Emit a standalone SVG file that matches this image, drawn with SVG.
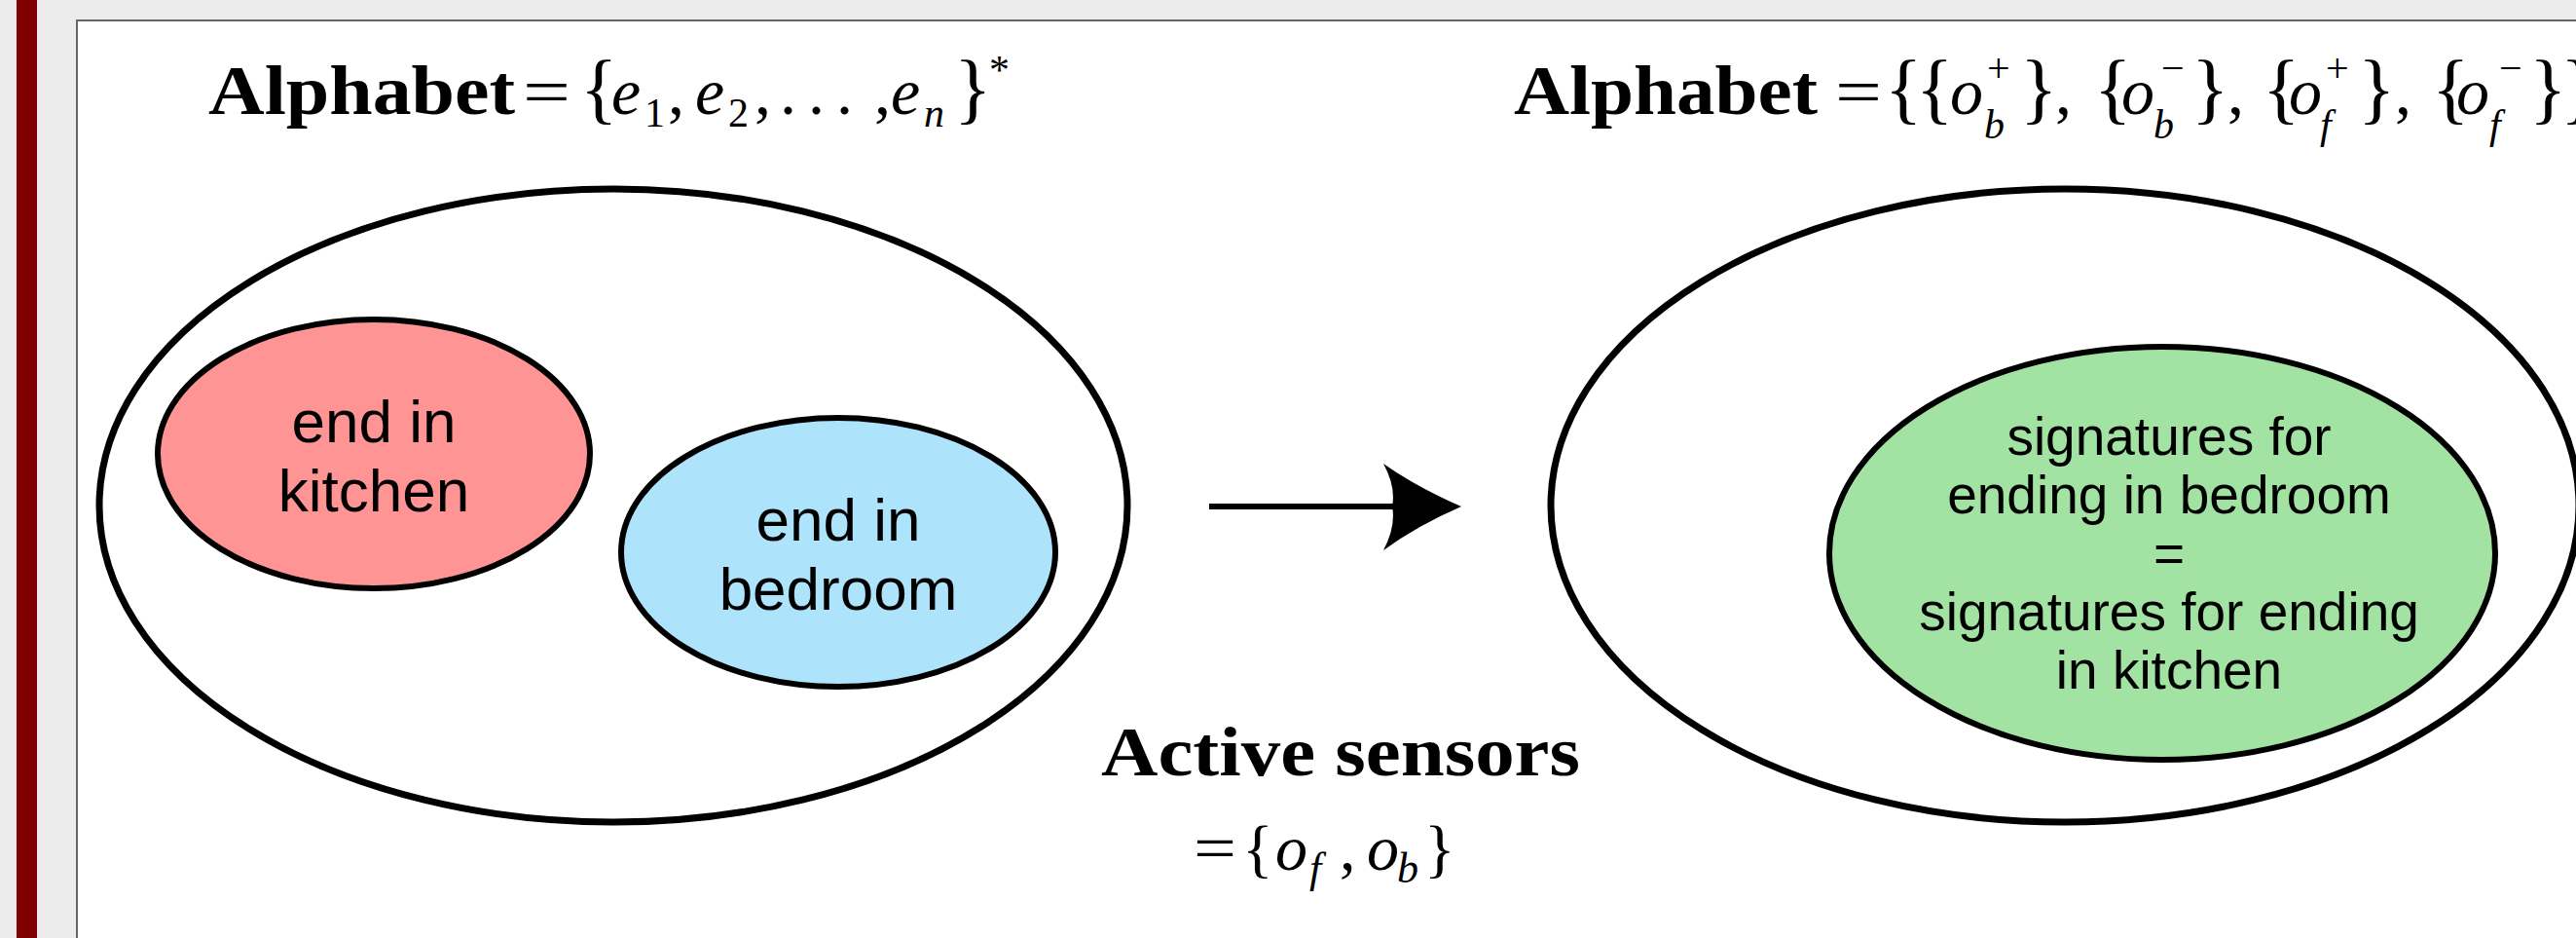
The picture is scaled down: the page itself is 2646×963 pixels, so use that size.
<svg xmlns="http://www.w3.org/2000/svg" width="2646" height="963" viewBox="0 0 2646 963">
<style>
.outer{fill:none;stroke:#000;stroke-width:7}
.inner{stroke:#000;stroke-width:6}
.lbl{font-family:"Liberation Sans",Arial,sans-serif;font-size:62px;fill:#000;text-anchor:middle}
.lbl2{font-family:"Liberation Sans",Arial,sans-serif;font-size:55px;fill:#000;text-anchor:middle}
.bf{font-family:"Liberation Serif","Times New Roman",serif;font-weight:bold;font-size:72px;fill:#000}
.m{font-family:"Liberation Serif","Times New Roman",serif;font-size:68px;fill:#000}
.mi{font-style:italic}
.br{font-size:80px}
.sc{font-size:42px}
</style>
<rect x="0" y="0" width="2646" height="963" fill="#ececec"/>
<rect x="17" y="0" width="21" height="963" fill="#800000"/>
<rect x="79" y="21" width="2620" height="1000" fill="#fff" stroke="#666" stroke-width="2"/>

<g id="title-left">
<text class="bf" x="214" y="117" textLength="315" lengthAdjust="spacingAndGlyphs">Alphabet</text>
<text class="m" y="117"><tspan x="537" textLength="49" lengthAdjust="spacingAndGlyphs">=</tspan><tspan class="br" x="596">{</tspan><tspan class="mi" x="628">e</tspan><tspan class="sc" x="662" y="130">1</tspan><tspan x="686" y="117">,</tspan><tspan class="mi" x="714">e</tspan><tspan class="sc" x="748" y="130">2</tspan><tspan x="775" y="117">,</tspan><tspan x="801">.</tspan><tspan x="830">.</tspan><tspan x="859">.</tspan><tspan x="898">,</tspan><tspan class="mi" x="915">e</tspan><tspan class="sc mi" x="949" y="130">n</tspan><tspan class="br" x="980" y="117">}</tspan><tspan class="sc" x="1016" y="86">*</tspan></text>
</g>

<g id="title-right">
<text class="bf" x="1555" y="117" textLength="312" lengthAdjust="spacingAndGlyphs">Alphabet</text>
<text class="m" y="117"><tspan x="1885" textLength="48" lengthAdjust="spacingAndGlyphs">=</tspan><tspan class="br" x="1936">{</tspan><tspan class="br" x="1968">{</tspan><tspan class="mi" x="2003">o</tspan><tspan class="sc" x="2041" y="84">+</tspan><tspan class="sc mi" x="2038" y="142">b</tspan><tspan class="br" x="2075" y="117">}</tspan><tspan x="2111">,</tspan><tspan class="br" x="2151">{</tspan><tspan class="mi" x="2179">o</tspan><tspan class="sc" x="2220" y="84">−</tspan><tspan class="sc mi" x="2212" y="142">b</tspan><tspan class="br" x="2251" y="117">}</tspan><tspan x="2288">,</tspan><tspan class="br" x="2324">{</tspan><tspan class="mi" x="2351">o</tspan><tspan class="sc" x="2389" y="84">+</tspan><tspan class="sc mi" x="2383" y="142">f</tspan><tspan class="br" x="2422" y="117">}</tspan><tspan x="2460">,</tspan><tspan class="br" x="2498">{</tspan><tspan class="mi" x="2523">o</tspan><tspan class="sc" x="2567" y="84">−</tspan><tspan class="sc mi" x="2557" y="142">f</tspan><tspan class="br" x="2598" y="117">}</tspan><tspan class="br" x="2630">}</tspan></text>
</g>

<g id="set-left">
<ellipse class="outer" cx="630" cy="519" rx="528" ry="325"/>
</g>
<g id="kitchen">
<ellipse class="inner" cx="384" cy="466" rx="222" ry="138" fill="#ff9494"/>
<text class="lbl" x="384" y="454">end in</text>
<text class="lbl" x="384" y="525">kitchen</text>
</g>
<g id="bedroom">
<ellipse class="inner" cx="861" cy="567" rx="223" ry="138" fill="#aee3fc"/>
<text class="lbl" x="861" y="555">end in</text>
<text class="lbl" x="861" y="626">bedroom</text>
</g>

<g id="set-right">
<ellipse class="outer" cx="2121" cy="519" rx="528" ry="325"/>
</g>
<g id="signatures">
<ellipse class="inner" cx="2221" cy="568" rx="342" ry="212" fill="#a2e2a2"/>
<text class="lbl2" x="2228" y="467">signatures for</text>
<text class="lbl2" x="2228" y="527">ending in bedroom</text>
<text class="lbl2" x="2228" y="587">=</text>
<text class="lbl2" x="2228" y="647">signatures for ending</text>
<text class="lbl2" x="2228" y="707">in kitchen</text>
</g>

<g id="connectors">
<line x1="1242" y1="520" x2="1434" y2="520" stroke="#000" stroke-width="6"/>
<path d="M1501,520 Q1455,500 1421,476 Q1434,500 1430,520 Q1434,540 1421,565 Q1455,540 1501,520 Z" fill="#000"/>
</g>

<g id="active-sensors">
<text class="bf" x="1131" y="796" textLength="492" lengthAdjust="spacingAndGlyphs">Active sensors</text>
<text class="m" y="893" style="font-size:66px"><tspan x="1226" textLength="44" lengthAdjust="spacingAndGlyphs">=</tspan><tspan x="1276">{</tspan><tspan class="mi" x="1310">o</tspan><tspan class="mi" x="1345" y="906" style="font-size:44px">f</tspan><tspan x="1376" y="893">,</tspan><tspan class="mi" x="1404">o</tspan><tspan class="mi" x="1435" y="906" style="font-size:44px">b</tspan><tspan x="1463" y="893">}</tspan></text>
</g>
</svg>
